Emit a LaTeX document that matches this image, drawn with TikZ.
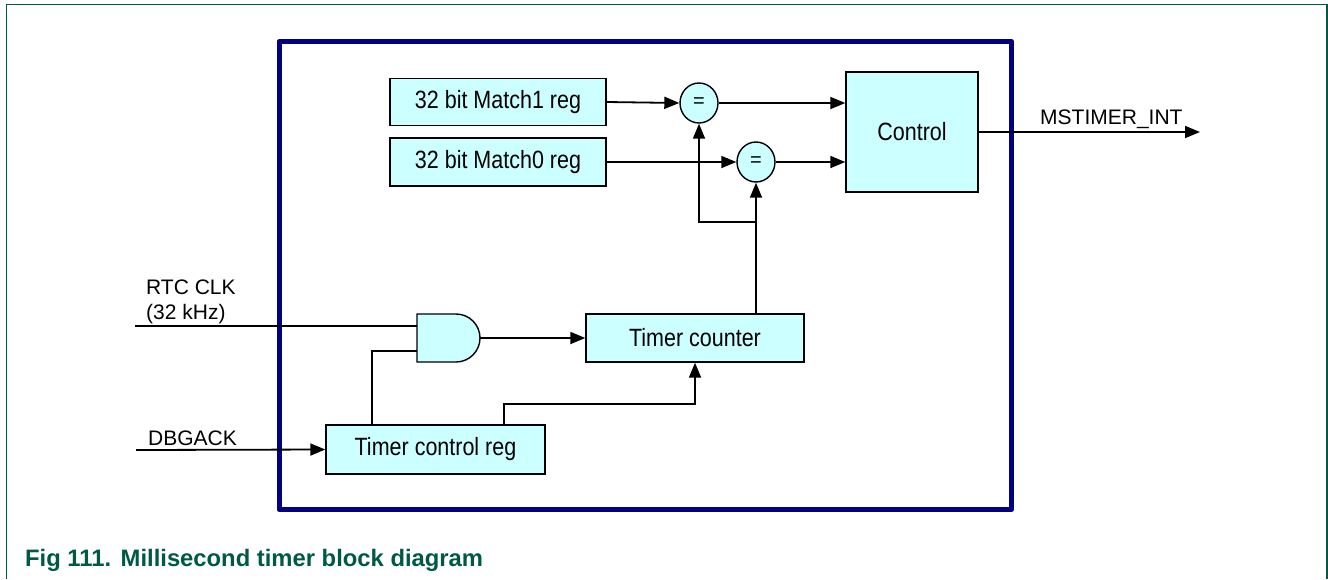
\documentclass[tikz,border=0pt]{standalone}
\usepackage{fontspec}
\setmainfont{Liberation Sans}
\newfontfamily\boxfont[FakeStretch=0.86]{Liberation Sans}
\usetikzlibrary{arrows.meta,calc,shapes.geometric}
\definecolor{boxfill}{RGB}{204,255,255}
\definecolor{navyframe}{RGB}{0,0,128}
\definecolor{nxpgreen}{RGB}{0,88,70}
\tikzset{
  blk/.style={draw=black, line width=1.4pt, fill=boxfill, rectangle, inner sep=0pt,
              font=\boxfont\fontsize{25}{29}\selectfont},
  eqc/.style={draw=black, line width=1.4pt, fill=boxfill, ellipse, inner sep=0pt,
              minimum width=38pt, minimum height=40pt, font=\fontsize{20}{22}\selectfont},
  wire/.style={draw=black, line width=1.8pt},
  arr/.style={wire, -{Triangle[length=15pt,width=12pt]}},
  lbl/.style={inner sep=0pt, font=\fontsize{21}{25}\selectfont},
}
\begin{document}
\begin{tikzpicture}[x=1pt,y=-1pt]
\useasboundingbox (0,0) rectangle (1328,579);
% outer green frame (open at the bottom)
\draw[nxpgreen, line width=1.6pt] (6.5,579) -- (6.5,4.5) -- (1327,4.5) -- (1327,579);
% blue frame
\draw[navyframe, line width=5pt, line join=round] (279,41.5) rectangle (1011.5,509.5);

% blocks
\node[blk, minimum width=216pt, minimum height=47pt] (m1) at (498,102) {32 bit Match1 reg};
\node[blk, minimum width=216pt, minimum height=48pt] (m0) at (498,162) {32 bit Match0 reg};
\node[eqc] (eq1) at (699,103) {=};
\node[eqc] (eq2) at (756,162) {=};
\node[blk, minimum width=132pt, minimum height=120pt] (ctrl) at (912,132) {Control};
\node[blk, minimum width=218pt, minimum height=48pt] (tc) at (695,338) {Timer counter};
\node[blk, minimum width=219pt, minimum height=49pt] (tcr) at (435.5,449.5) {Timer control reg};

% AND gate
\draw[line width=1.4pt, fill=boxfill] (417,314) -- (456,314) arc (-90:90:24) -- (417,362) -- cycle;
\coordinate (gin1) at (417,326);
\coordinate (gin2) at (417,351);
\coordinate (gout) at (480,338);

% labels
\node[lbl, anchor=base west] (rtc1) at (146,294) {RTC CLK};
\node[lbl, anchor=base west] (rtc2) at (146,319) {(32 kHz)};
\node[lbl, anchor=base west] (dbgl) at (148,445) {DBGACK};
\node[lbl, anchor=base west] (intl) at (1040,124) {MSTIMER\_INT};
\coordinate (rtcin) at (135,326);
\coordinate (dbgin) at (136,450);
\coordinate (intout) at (1200,132);
\coordinate (j) at (756,222);

% connectors
\draw[arr] (m1.east) -- (eq1.west);
\draw[arr] (eq1.east) -- (eq1.east -| ctrl.west);
\draw[arr] (m0.east) -- (eq2.west);
\draw[arr] (eq2.east) -- (eq2.east -| ctrl.west);
\draw[arr] (ctrl.east |- intout) -- (intout);
\draw[arr] (eq2.south |- tc.north) -- (eq2.south);
\draw[arr] (j) -- (j -| eq1.south) -- (eq1.south);
\draw[wire] (rtcin) -- (gin1);
\draw[arr] (gout) -- (gout -| tc.west);
\draw[wire] ([xshift=47pt]tcr.north west) |- (gin2);
\draw[arr] ([xshift=-42pt]tcr.north east) -- ++(0,-20) -| (tc.south);
\draw[arr] (dbgin) -- (tcr.west);

% caption
\node[anchor=base west, inner sep=0pt, text=nxpgreen, font=\bfseries\fontsize{23.8}{28}\selectfont] (cap) at (25,566) {Fig 111.\hspace{0.4em}Millisecond timer block diagram};
\end{tikzpicture}
\end{document}
